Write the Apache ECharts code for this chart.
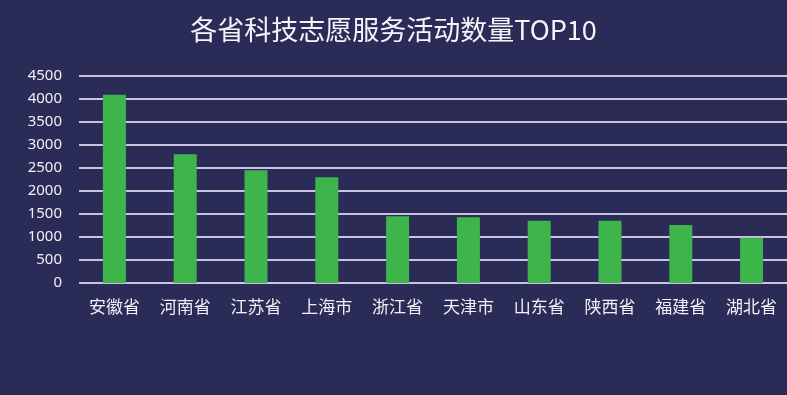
<!DOCTYPE html>
<html><head><meta charset="utf-8">
<script src="https://cdn.jsdelivr.net/npm/echarts@6/dist/echarts.min.js"></script>
<style>html,body{margin:0;padding:0;background:#2a2b56;}#c{width:787px;height:395px;}</style>
</head><body><div id="c"></div>
<script>
const categories = ['安徽省','河南省','江苏省','上海市','浙江省','天津市','山东省','陕西省','福建省','湖北省'];
const values = [4090, 2800, 2450, 2300, 1450, 1430, 1355, 1355, 1260, 985];
const chart = echarts.init(document.getElementById('c'));
chart.setOption({
  backgroundColor: '#2a2b56',
  title: {
    text: '各省科技志愿服务活动数量TOP10',
    left: 'center', top: 11,
    textStyle: { color: '#f4f4fa', fontSize: 27, fontWeight: 'normal', fontFamily: 'Noto Sans CJK SC' }
  },
  grid: { left: 79, right: 0, top: 76, bottom: 112 },
  xAxis: {
    type: 'category', data: categories,
    axisLine: { show: false }, axisTick: { show: false },
    axisLabel: { color: '#f0f0f6', fontSize: 17, margin: 15, fontFamily: 'Noto Sans CJK SC' }
  },
  yAxis: {
    type: 'value', min: 0, max: 4500, interval: 500,
    axisLine: { show: false }, axisTick: { show: false },
    axisLabel: { color: '#f0f0f6', fontSize: 15, margin: 17, fontFamily: 'Noto Sans', formatter: function (v) { return String(v); } },
    splitLine: { lineStyle: { color: '#c9c3e2', width: 2 } }
  },
  series: [{
    type: 'bar', data: values, barWidth: 23,
    itemStyle: { color: '#3db54a' }
  }]
});
</script></body></html>
